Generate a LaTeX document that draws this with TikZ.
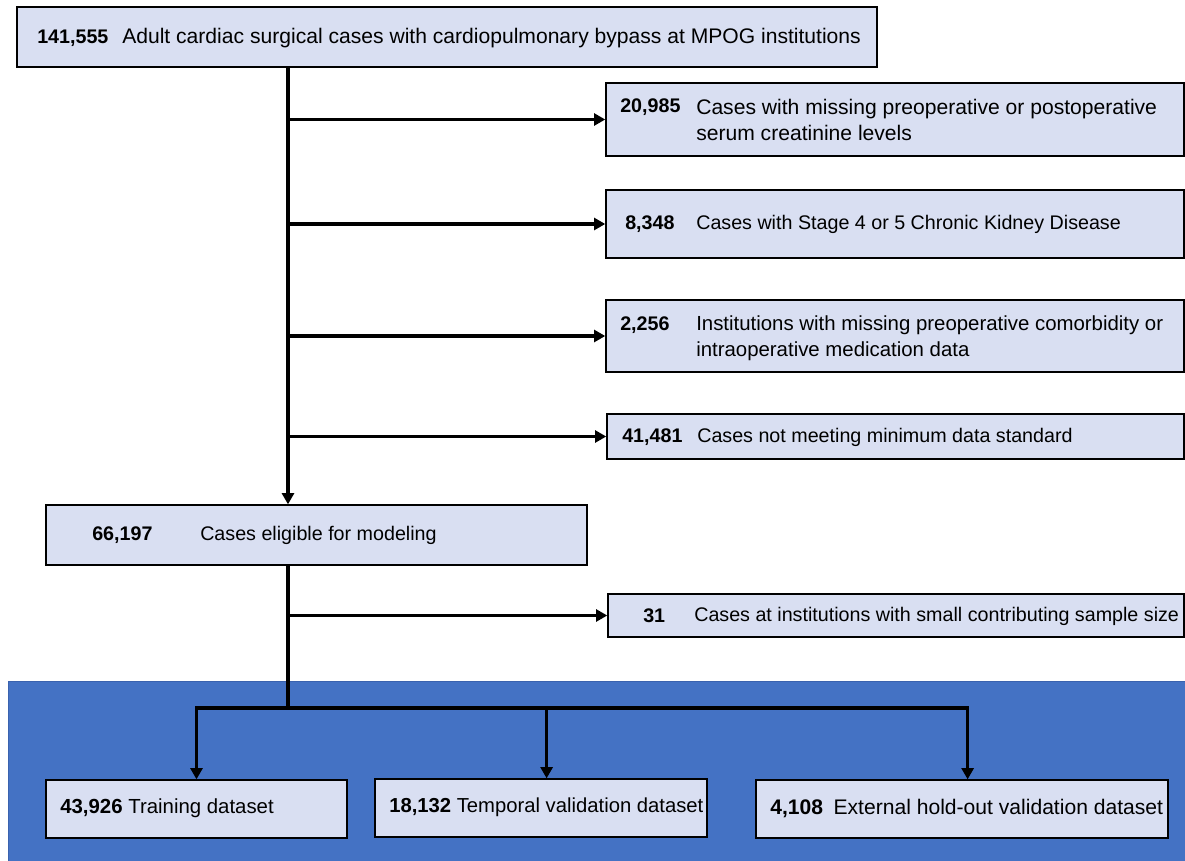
\documentclass[tikz,border=0pt]{standalone}
\usepackage{fontspec}
\setmainfont{Liberation Sans}
\usetikzlibrary{arrows.meta}
\definecolor{boxfill}{HTML}{D9DFF2}
\definecolor{panelblue}{HTML}{4472C4}
\definecolor{paneledge}{HTML}{3A62AE}

\begin{document}
\begin{tikzpicture}[x=0.025cm, y=-0.025cm,
    font=\fontsize{14}{18.6}\selectfont,
    countbox/.style={draw=black, line width=0.9pt, fill=boxfill, inner sep=0pt},
    txt/.style={anchor=west, inner sep=0pt, align=left},
    wide/.style={font=\fontsize{15}{18.6}\selectfont},
    flow/.style={line width=2.6pt, -{Triangle[length=8pt,width=8.5pt]}},
    trunk/.style={line width=2.6pt}]
    %%%%% FRAME %%%%%
    \useasboundingbox (0,0) rectangle (1185,861);
    \draw[fill=panelblue, draw=paneledge, line width=0.6pt] (8,681) rectangle (1186,862);

    %%%%% BOXES %%%%%
    \node[countbox, minimum width=21.5cm, minimum height=1.5cm] (all) at (447,37) {};
    \node[countbox, minimum width=14.45cm, minimum height=1.825cm] (ex1) at (895,119.5) {};
    \node[countbox, minimum width=14.45cm, minimum height=1.7cm] (ex2) at (895,224) {};
    \node[countbox, minimum width=14.45cm, minimum height=1.8cm] (ex3) at (895,336) {};
    \node[countbox, minimum width=14.425cm, minimum height=1.125cm] (ex4) at (895.5,436.5) {};
    \node[countbox, minimum width=13.525cm, minimum height=1.5cm] (elig) at (316.5,535) {};
    \node[countbox, minimum width=14.4cm, minimum height=1.075cm] (ex5) at (896,615.5) {};
    \node[countbox, minimum width=7.525cm, minimum height=1.45cm] (train) at (196.5,809) {};
    \node[countbox, minimum width=8.3cm, minimum height=1.45cm] (temp) at (541,808) {};
    \node[countbox, minimum width=10.3cm, minimum height=1.45cm] (ext) at (962,809) {};

    %%%%% TEXTS %%%%%
    \node[txt] (nall) at (37,38) {\textbf{141,555}};
    \node[txt, wide] (tall) at (122,38) {Adult cardiac surgical cases with cardiopulmonary bypass at MPOG institutions};
    \node[txt] (nex1) at (620,107) {\textbf{20,985}};
    \node[txt, wide] (tex1) at (696,120) {Cases with missing preoperative or postoperative\\serum creatinine levels};
    \node[txt] (nex2) at (625,224) {\textbf{8,348}};
    \node[txt] (tex2) at (696,224) {Cases with Stage 4 or 5 Chronic Kidney Disease};
    \node[txt] (nex3) at (620,325) {\textbf{2,256}};
    \node[txt, font=\fontsize{14.5}{18.6}\selectfont] (tex3) at (696,338) {Institutions with missing preoperative comorbidity or\\intraoperative medication data};
    \node[txt] (nex4) at (622,437) {\textbf{41,481}};
    \node[txt] (tex4) at (697,437) {Cases not meeting minimum data standard};
    \node[txt] (nelig) at (92,535) {\textbf{66,197}};
    \node[txt] (telig) at (200,535) {Cases eligible for modeling};
    \node[txt] (nex5) at (643,616) {\textbf{31}};
    \node[txt] (tex5) at (694,616) {Cases at institutions with small contributing sample size};
    \node[txt, font=\fontsize{14.5}{18.6}\selectfont] (ttrain) at (60,808) {\textbf{43,926} Training dataset};
    \node[txt, font=\fontsize{14.4}{18.6}\selectfont] (ttemp) at (389,807) {\textbf{18,132} Temporal validation dataset};
    \node[txt, wide] (text) at (770,808) {\textbf{4,108}\enspace External hold-out validation dataset};

    %%%%% ARROWS %%%%%
    \coordinate (trunktop) at (288,67);
    \coordinate (fork) at (288,708);
    \draw[flow] (trunktop) -- (trunktop |- elig.north);
    \draw[flow] (trunktop |- ex1.west) -- (ex1.west);
    \draw[flow] (trunktop |- ex2.west) -- (ex2.west);
    \draw[flow] (trunktop |- ex3.west) -- (ex3.west);
    \draw[flow] (trunktop |- ex4.west) -- (ex4.west);

    \draw[trunk] (trunktop |- elig.south) -- (fork);
    \draw[flow] (trunktop |- ex5.west) -- (ex5.west);
    \draw[flow] (fork) -| (train.north);
    \draw[flow] (fork) -| ([xshift=4pt]temp.north);
    \draw[flow] (fork) -| ([xshift=4pt]ext.north);
\end{tikzpicture}
\end{document}
